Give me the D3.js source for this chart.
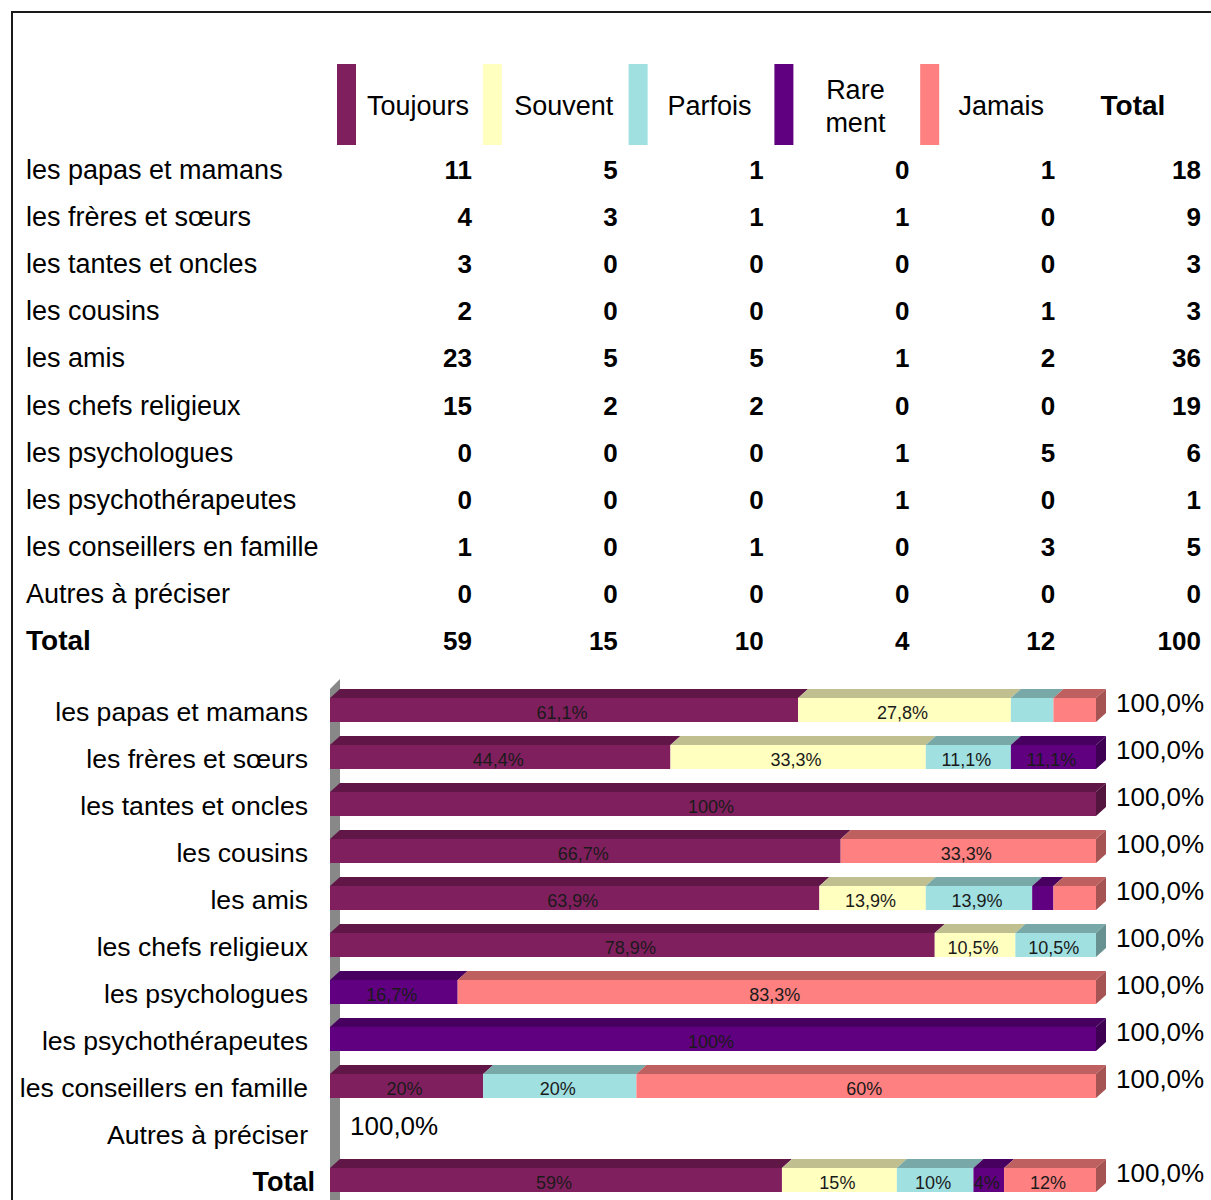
<!DOCTYPE html>
<meta charset="utf-8">
<title>a qui parles-tu</title>
<style>
    body { margin: 0; background: #fff; }
    svg { font-family: "Liberation Sans", Arial, sans-serif; }
</style>
<body>
<script src="https://d3js.org/d3.v7.min.js"></script>
<script>
    var width = 1211;
    var height = 1200;

    var categories = ["les papas et mamans", "les frères et sœurs", "les tantes et oncles",
        "les cousins", "les amis", "les chefs religieux", "les psychologues",
        "les psychothérapeutes", "les conseillers en famille", "Autres à préciser"];
    var series = ["Toujours", "Souvent", "Parfois", "Rarement", "Jamais"];
    var seriesLabels = [["Toujours"], ["Souvent"], ["Parfois"], ["Rare", "ment"], ["Jamais"]];
    var toujours = [11, 4, 3, 2, 23, 15, 0, 0, 1, 0];
    var souvent  = [5, 3, 0, 0, 5, 2, 0, 0, 0, 0];
    var parfois  = [1, 1, 0, 0, 5, 2, 0, 0, 1, 0];
    var rarement = [0, 1, 0, 0, 1, 0, 1, 1, 0, 0];
    var jamais   = [1, 0, 0, 1, 2, 0, 5, 0, 3, 0];
    var colors = ["#801F5E", "#FFFFC0", "#A0E0E0", "#600080", "#FF8080"];
    // labels the original left out
    var hiddenLabels = ["les papas et mamans|Parfois", "les papas et mamans|Jamais",
        "les amis|Rarement", "les amis|Jamais"];
    var totalLabel = "100,0%";

    var columns = [toujours, souvent, parfois, rarement, jamais];
    var rows = categories.map(function(c, i) {
        var d = {name: c};
        series.forEach(function(s, j) { d[s] = columns[j][i]; });
        d.total = d3.sum(series, function(s) { return d[s]; });
        return d;
    });
    var totalRow = {name: "Total"};
    series.forEach(function(s) { totalRow[s] = d3.sum(rows, function(r) { return r[s]; }); });
    totalRow.total = d3.sum(series, function(s) { return totalRow[s]; });
    var allRows = rows.concat([totalRow]);

    var svg = d3.select("body").append("svg")
        .attr("width", width)
        .attr("height", height);

    // frame
    svg.append("rect")
        .attr("x", 12).attr("y", 12)
        .attr("width", 1400).attr("height", 1400)
        .style("fill", "none")
        .style("stroke", "#1a1a1a")
        .attr("stroke-width", 2);

    // ---- table ----
    var colX = d3.scalePoint().domain(series.concat(["Total"])).range([472, 1201]);
    var rowY = d3.scalePoint().domain(allRows.map(function(d) { return d.name; })).range([170, 641]);

    var legend = svg.append("g").attr("class", "legend");
    legend.selectAll("rect")
        .data(series)
        .enter().append("rect")
        .attr("x", function(d) { return colX(d) - 135; })
        .attr("y", 64)
        .attr("width", 19)
        .attr("height", 81)
        .style("fill", function(d, i) { return colors[i]; });

    legend.selectAll("text.ser")
        .data(series)
        .enter().append("text")
        .attr("class", "ser")
        .style("text-anchor", "middle")
        .style("font-size", "27px")
        .each(function(d, i) {
            var t = d3.select(this);
            seriesLabels[i].forEach(function(line, k) {
                t.append("tspan")
                    .attr("x", colX(d) - 54)
                    .attr("y", seriesLabels[i].length > 1 ? 99 + k * 33 : 115)
                    .text(line);
            });
        });

    legend.append("text")
        .attr("x", 1133)
        .attr("y", 115)
        .style("text-anchor", "middle")
        .style("font-size", "28px")
        .style("font-weight", "bold")
        .text("Total");

    var tRows = svg.append("g").attr("class", "table")
        .selectAll("g")
        .data(allRows)
        .enter().append("g")
        .attr("transform", function(d) { return "translate(0," + (rowY(d.name) + 9) + ")"; });

    tRows.append("text")
        .attr("x", 26)
        .style("font-size", function(d) { return d.name == "Total" ? "28px" : "27px"; })
        .style("font-weight", function(d) { return d.name == "Total" ? "bold" : "normal"; })
        .text(function(d) { return d.name; });

    tRows.selectAll("text.num")
        .data(function(d) {
            return series.map(function(s) { return {col: s, v: d[s]}; })
                .concat([{col: "Total", v: d.total}]);
        })
        .enter().append("text")
        .attr("class", "num")
        .attr("x", function(d) { return colX(d.col); })
        .style("text-anchor", "end")
        .style("font-size", "26px")
        .style("font-weight", "bold")
        .text(function(d) { return d.v; });

    // ---- 3D stacked bars ----
    var dx = 10, dy = 9, barH = 24;
    var x = d3.scaleLinear().domain([0, 1]).range([330, 1096]);
    var yb = d3.scalePoint().domain(allRows.map(function(d) { return d.name; })).range([698, 1168]);

    var fmt = function(p) {
        return (Math.round(p * 1000) / 10).toFixed(1).replace(".0", "").replace(".", ",") + "%";
    };

    // left wall
    svg.append("polygon")
        .attr("points", [[330, 689], [340, 679], [340, 1210], [330, 1220]].join(" "))
        .style("fill", "#888888");

    var stack = d3.stack().keys(series);
    var shares = allRows.map(function(d) {
        var o = {name: d.name};
        series.forEach(function(s) { o[s] = d.total ? d[s] / d.total : 0; });
        return o;
    });
    var stacked = stack(shares);

    var bars = svg.append("g").attr("class", "bars")
        .selectAll("g")
        .data(allRows)
        .enter().append("g");

    bars.each(function(row, ri) {
        var g = d3.select(this);
        var y = yb(row.name);
        var segs = series.map(function(s, j) {
            return {s: s, c: colors[j], x0: x(stacked[j][ri][0]), x1: x(stacked[j][ri][1]), p: shares[ri][s]};
        }).filter(function(d) { return d.p > 0; });

        segs.forEach(function(d, k) {
            var top = d3.color(d.c); top = d3.rgb(top.r * 0.75, top.g * 0.75, top.b * 0.75);
            g.append("polygon")
                .attr("points", [[d.x0, y], [d.x0 + dx, y - dy], [d.x1 + dx, y - dy], [d.x1, y]].join(" "))
                .style("fill", top);
            if (k == segs.length - 1) {
                var side = d3.color(d.c); side = d3.rgb(side.r * 0.65, side.g * 0.65, side.b * 0.65);
                g.append("polygon")
                    .attr("points", [[d.x1, y], [d.x1 + dx, y - dy], [d.x1 + dx, y - dy + barH], [d.x1, y + barH]].join(" "))
                    .style("fill", side);
            }
            g.append("rect")
                .attr("x", d.x0)
                .attr("y", y)
                .attr("width", d.x1 - d.x0)
                .attr("height", barH)
                .style("fill", d.c);
            if (hiddenLabels.indexOf(row.name + "|" + d.s) < 0) {
                g.append("text")
                    .attr("x", (d.x0 + d.x1) / 2 - 2)
                    .attr("y", y + 21)
                    .style("text-anchor", "middle")
                    .style("font-size", "18px")
                    .style("fill", "#1a1a1a")
                    .text(fmt(d.p));
            }
        });

        var end = segs.length ? segs[segs.length - 1].x1 : x(0);
        g.append("text")
            .attr("x", end + dx + 10)
            .attr("y", y + 14)
            .style("font-size", "26px")
            .text(totalLabel);

        g.append("text")
            .attr("x", row.name == "Total" ? 315 : 308)
            .attr("y", y + 23)
            .style("text-anchor", "end")
            .style("font-size", row.name == "Total" ? "27px" : "26.6px")
            .style("font-weight", row.name == "Total" ? "bold" : "normal")
            .text(row.name);
    });
</script>
</body>
